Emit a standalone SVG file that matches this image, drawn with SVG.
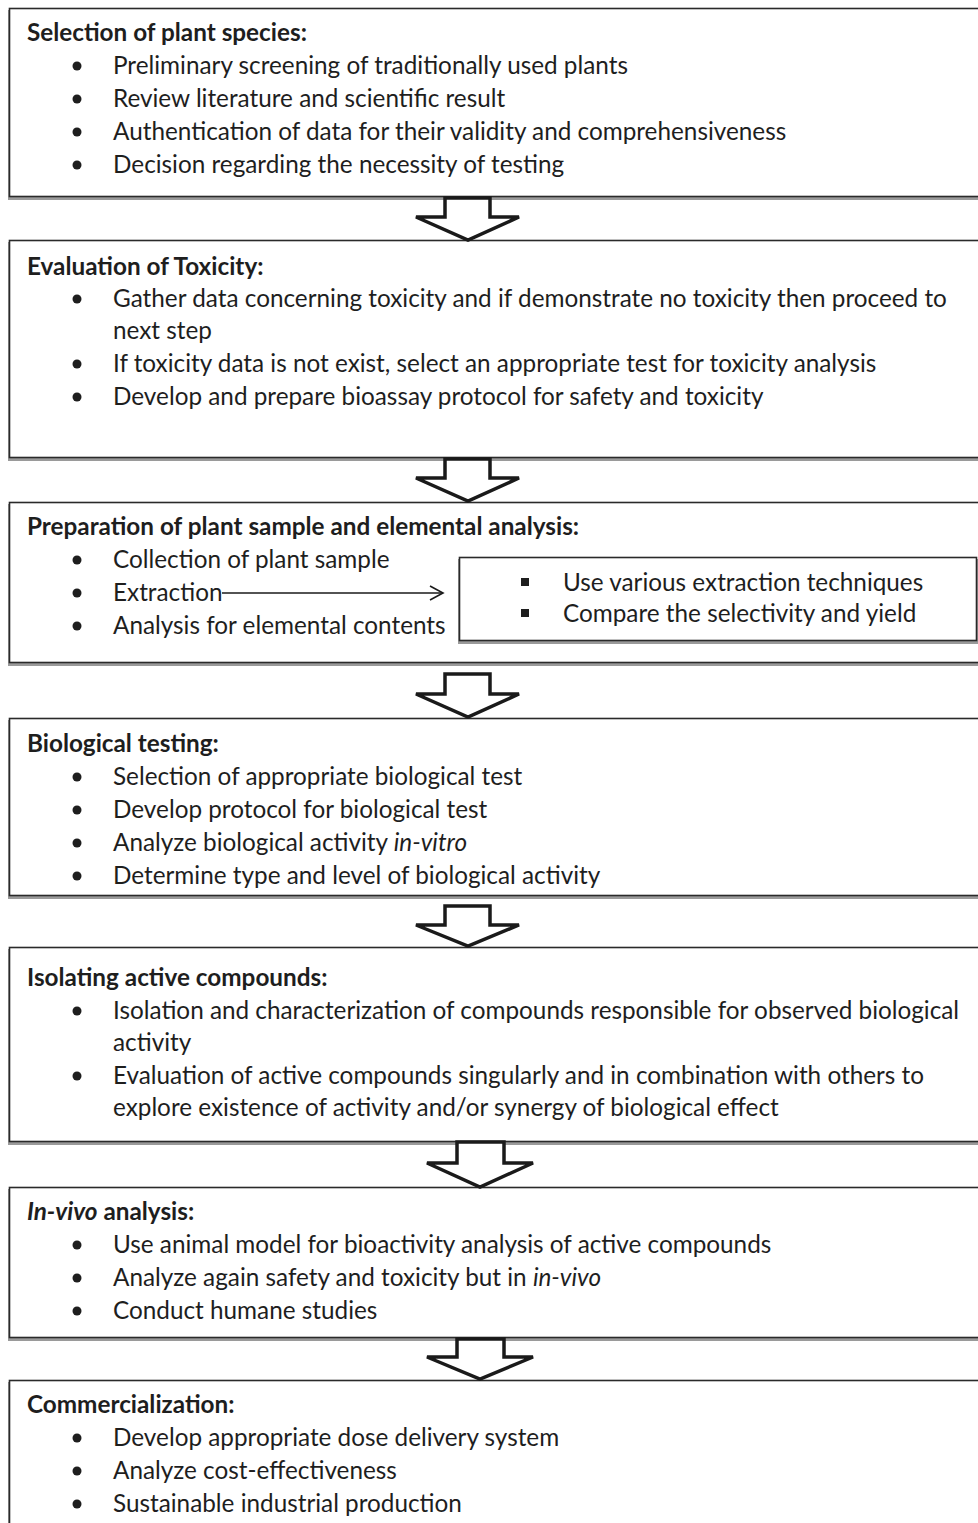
<svg xmlns="http://www.w3.org/2000/svg" width="978" height="1523" viewBox="0 0 978 1523">
<style>
.box{fill:#fff;stroke:#2a2a2a;stroke-width:1.6}
.sh{fill:#9a9a9a}
text{font-family:Lato,"Open Sans",sans-serif;font-size:24.3px;fill:#1e1e1e}
.t{font-weight:bold}
.bl{fill:#1e1e1e}
.ar{fill:#fff;stroke:#1a1a1a;stroke-width:3.5;stroke-linejoin:miter}
</style>
<defs>
<marker id="open" markerWidth="16" markerHeight="16" refX="14" refY="8" orient="auto" markerUnits="userSpaceOnUse">
<path d="M1,1 L14,8 L1,15" fill="none" stroke="#1a1a1a" stroke-width="1.6"/>
</marker>
</defs>

<g id="n1">
<rect class="sh" x="8" y="10" width="1000" height="190"/>
<rect class="box" x="9.5" y="8.5" width="1000" height="188"/>
<text class="t" x="27" y="41">Selection of plant species:</text>
<circle class="bl" cx="77" cy="66" r="4.5"/><text x="113" y="74">Preliminary screening of traditionally used plants</text>
<circle class="bl" cx="77" cy="99" r="4.5"/><text x="113" y="107">Review literature and scientific result</text>
<circle class="bl" cx="77" cy="132" r="4.5"/><text x="113" y="140">Authentication of data for their validity and comprehensiveness</text>
<circle class="bl" cx="77" cy="165" r="4.5"/><text x="113" y="173">Decision regarding the necessity of testing</text>
</g>

<g id="n2">
<rect class="sh" x="8" y="242" width="1000" height="219"/>
<rect class="box" x="9.5" y="240.5" width="1000" height="217"/>
<text class="t" x="27" y="275">Evaluation of Toxicity:</text>
<circle class="bl" cx="77" cy="299" r="4.5"/><text x="113" y="307">Gather data concerning toxicity and if demonstrate no toxicity then proceed to</text>
<text x="113" y="339">next step</text>
<circle class="bl" cx="77" cy="364" r="4.5"/><text x="113" y="372">If toxicity data is not exist, select an appropriate test for toxicity analysis</text>
<circle class="bl" cx="77" cy="397" r="4.5"/><text x="113" y="405">Develop and prepare bioassay protocol for safety and toxicity</text>
</g>

<g id="n3">
<rect class="sh" x="8" y="504" width="1000" height="162"/>
<rect class="box" x="9.5" y="502.5" width="1000" height="160"/>
<text class="t" x="27" y="535">Preparation of plant sample and elemental analysis:</text>
<circle class="bl" cx="77" cy="560" r="4.5"/><text x="113" y="568">Collection of plant sample</text>
<circle class="bl" cx="77" cy="593" r="4.5"/><text x="113" y="601">Extraction</text>
<circle class="bl" cx="77" cy="626" r="4.5"/><text x="113" y="634">Analysis for elemental contents</text>
</g>

<g id="n3b">
<rect class="sh" x="458" y="559" width="521" height="85"/>
<rect class="box" x="459.5" y="557.5" width="517" height="83"/>
<rect class="bl" x="521" y="578" width="8" height="8"/><text x="563" y="591">Use various extraction techniques</text>
<rect class="bl" x="521" y="609" width="8" height="8"/><text x="563" y="622">Compare the selectivity and yield</text>
</g>

<g id="n4">
<rect class="sh" x="8" y="720" width="1000" height="179"/>
<rect class="box" x="9.5" y="718.5" width="1000" height="177"/>
<text class="t" x="27" y="752">Biological testing:</text>
<circle class="bl" cx="77" cy="777" r="4.5"/><text x="113" y="785">Selection of appropriate biological test</text>
<circle class="bl" cx="77" cy="810" r="4.5"/><text x="113" y="818">Develop protocol for biological test</text>
<circle class="bl" cx="77" cy="843" r="4.5"/><text x="113" y="851">Analyze biological activity <tspan font-style="italic">in-vitro</tspan></text>
<circle class="bl" cx="77" cy="876" r="4.5"/><text x="113" y="884">Determine type and level of biological activity</text>
</g>

<g id="n5">
<rect class="sh" x="8" y="949" width="1000" height="196"/>
<rect class="box" x="9.5" y="947.5" width="1000" height="194"/>
<text class="t" x="27" y="986">Isolating active compounds:</text>
<circle class="bl" cx="77" cy="1011" r="4.5"/><text x="113" y="1019">Isolation and characterization of compounds responsible for observed biological</text>
<text x="113" y="1051">activity</text>
<circle class="bl" cx="77" cy="1076" r="4.5"/><text x="113" y="1084">Evaluation of active compounds singularly and in combination with others to</text>
<text x="113" y="1116">explore existence of activity and/or synergy of biological effect</text>
</g>

<g id="n6">
<rect class="sh" x="8" y="1189" width="1000" height="152"/>
<rect class="box" x="9.5" y="1187.5" width="1000" height="150"/>
<text class="t" x="27" y="1220"><tspan font-style="italic">In-vivo</tspan> analysis:</text>
<circle class="bl" cx="77" cy="1245" r="4.5"/><text x="113" y="1253">Use animal model for bioactivity analysis of active compounds</text>
<circle class="bl" cx="77" cy="1278" r="4.5"/><text x="113" y="1286">Analyze again safety and toxicity but in <tspan font-style="italic">in-vivo</tspan></text>
<circle class="bl" cx="77" cy="1311" r="4.5"/><text x="113" y="1319">Conduct humane studies</text>
</g>

<g id="n7">
<rect class="sh" x="8" y="1382" width="1000" height="200"/>
<rect class="box" x="9.5" y="1380.5" width="1000" height="200"/>
<text class="t" x="27" y="1413">Commercialization:</text>
<circle class="bl" cx="77" cy="1438" r="4.5"/><text x="113" y="1446">Develop appropriate dose delivery system</text>
<circle class="bl" cx="77" cy="1471" r="4.5"/><text x="113" y="1479">Analyze cost-effectiveness</text>
<circle class="bl" cx="77" cy="1504" r="4.5"/><text x="113" y="1512">Sustainable industrial production</text>
</g>

<g id="connectors">
<line x1="222" y1="593" x2="443" y2="593" stroke="#1a1a1a" stroke-width="1.6" marker-end="url(#open)"/>
<path class="ar" d="M445,198 L490,198 L490,217 L519,217 L468,240 L416,217 L445,217 Z"/>
<path class="ar" d="M445,459 L490,459 L490,478 L519,478 L468,501 L416,478 L445,478 Z"/>
<path class="ar" d="M445,674 L490,674 L490,694 L519,694 L468,717 L416,694 L445,694 Z"/>
<path class="ar" d="M445,906 L490,906 L490,925 L519,925 L468,946 L416,925 L445,925 Z"/>
<path class="ar" d="M457,1142 L504,1142 L504,1163 L533,1163 L480,1187 L427,1163 L457,1163 Z"/>
<path class="ar" d="M457,1339 L504,1339 L504,1357 L533,1357 L480,1379 L427,1357 L457,1357 Z"/>
</g>
</svg>
